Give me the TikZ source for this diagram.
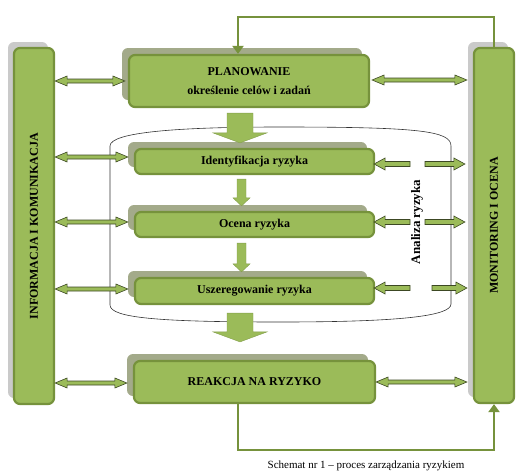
\documentclass[tikz,border=0pt]{standalone}
\usepackage{fontspec}
\setmainfont{Liberation Serif}
\usetikzlibrary{calc,shadows,arrows.meta}
\definecolor{boxgreen}{RGB}{155,187,89}
\definecolor{boxline}{RGB}{118,146,60}
\definecolor{boxshade}{RGB}{163,170,138}
\definecolor{barshade}{RGB}{202,202,202}
\definecolor{arrline}{RGB}{60,72,35}
\newcommand\dblarrow[2]{%
  \coordinate (s) at (#1);
  \coordinate (t) at (#2);
  \coordinate (h1) at ($(s)!12pt!(t)$);
  \coordinate (h2) at ($(t)!12pt!(s)$);
  \draw [dblarr] (s) -- ($(h1)!5pt!90:(t)$) -- ($(h1)!2pt!90:(t)$) -- ($(h2)!2pt!-90:(s)$) -- ($(h2)!5pt!-90:(s)$) -- (t) -- ($(h2)!5pt!90:(s)$) -- ($(h2)!2pt!90:(s)$) -- ($(h1)!2pt!-90:(t)$) -- ($(h1)!5pt!-90:(t)$) -- cycle;}
\newcommand\blkarrow[6][]{%
  \coordinate (s) at (#2);
  \coordinate (t) at (#3);
  \coordinate (h) at ($(t)!#6!(s)$);
  \draw [#1] ($(s)!#4!90:(t)$) -- ($(h)!#4!-90:(s)$) -- ($(h)!#5!-90:(s)$) -- (t) -- ($(h)!#5!90:(s)$) -- ($(h)!#4!90:(s)$) -- ($(s)!#4!-90:(t)$) -- cycle;}
\begin{document}
\begin{tikzpicture}[x=1pt, y=-1pt,
  bar/.style={draw=boxline, line width=2.2pt, fill=boxgreen, rounded corners=6pt, general shadow={fill=barshade, shadow xshift=-6pt, shadow yshift=6pt}, font=\bfseries\fontsize{12}{14}\selectfont},
  box/.style={draw=boxline, line width=2.2pt, fill=boxgreen, rounded corners=6pt, general shadow={fill=boxshade, shadow xshift=-7pt, shadow yshift=7pt}, font=\bfseries\fontsize{12}{14}\selectfont, align=center},
  dblarr/.style={draw=arrline, line width=0.6pt, fill=boxgreen},
  bigarr/.style={draw=boxgreen!85!black, line width=0.4pt, fill=boxgreen},
  fb/.style={draw=boxline, line width=2.5pt, -{Triangle[length=8pt,width=11pt]}}]
\useasboundingbox (0,0) rectangle (521,474);

\draw [line width=0.6pt, black!80] (110,305) -- (110,146) .. controls (110,132) and (180,127) .. (280,127) .. controls (420,127) and (451,131) .. (451,146) -- (451,304) .. controls (451,316) and (400,322) .. (280,322) .. controls (160,322) and (110,318) .. cycle;

\node [bar, minimum width=40pt, minimum height=356pt] (info) at (34,226) {\rotatebox{90}{INFORMACJA I KOMUNIKACJA}};
\node [bar, minimum width=40pt, minimum height=355pt] (monit) at (494,225.5) {\rotatebox{90}{MONITORING I OCENA}};

\node [box, minimum width=240pt, minimum height=52pt] (plan) at (249,81) {PLANOWANIE\\[5pt] określenie celów i zadań};
\node [box, minimum width=239pt, minimum height=25pt] (ident) at (254.5,161.5) {Identyfikacja ryzyka};
\node [box, minimum width=239pt, minimum height=25pt] (ocena) at (254.5,224.5) {Ocena ryzyka};
\node [box, minimum width=239pt, minimum height=26pt] (usz) at (254.5,291) {Uszeregowanie ryzyka};
\node [box, minimum width=241pt, minimum height=42pt] (reak) at (254.5,382) {REAKCJA NA RYZYKO};

\node [font=\bfseries\fontsize{13}{15}\selectfont, rotate=90] (analiza) at (417,222) {Analiza ryzyka};
\node [font=\fontsize{11}{13}\selectfont] (caption) at (366,466) {Schemat nr 1 -- proces zarządzania ryzykiem};

\blkarrow[bigarr]{$(plan.south)+(-9,5)$}{$(ident.north)+(-14.5,-5)$}{13pt}{27pt}{10pt}
\blkarrow[bigarr]{$(ident.south)+(-13,4)$}{$(ocena.north)+(-13,-5)$}{4.5pt}{8.5pt}{8pt}
\blkarrow[bigarr]{$(ocena.south)+(-13,5)$}{$(usz.north)+(-13,-5)$}{4.5pt}{8.5pt}{8pt}
\blkarrow[bigarr]{$(usz.south)+(-14.5,8)$}{$(reak.north)+(-14.5,-18)$}{13pt}{27pt}{10pt}

\dblarrow{info.east |- 0,81}{$(plan.west)+(-3,0)$}
\dblarrow{info.east |- 0,157}{$(ident.west |- 0,157)+(-6,0)$}
\dblarrow{info.east |- 0,222}{$(ocena.west |- 0,222)+(-6,0)$}
\dblarrow{info.east |- 0,289}{$(usz.west |- 0,289)+(-6,0)$}
\dblarrow{info.east |- 0,383}{$(reak.west |- 0,383)+(-6,0)$}

\dblarrow{$(plan.east |- 0,80)+(2,0)$}{$(monit.west |- 0,80)+(-6,0)$}
\dblarrow{reak.east |- 0,382}{$(monit.west |- 0,382)+(-6,0)$}

\blkarrow[dblarr]{410,164}{$(ident.east |- 0,164)+(-1,0)$}{2.5pt}{6pt}{11pt}
\blkarrow[dblarr]{425,164}{$(monit.west |- 0,164)+(-8,0)$}{2.5pt}{6pt}{11pt}
\blkarrow[dblarr]{410,222}{$(ocena.east |- 0,222)+(-1,0)$}{2.5pt}{6pt}{11pt}
\blkarrow[dblarr]{425,222}{$(monit.west |- 0,222)+(-8,0)$}{2.5pt}{6pt}{11pt}
\blkarrow[dblarr]{410,288}{$(usz.east |- 0,288)+(-1,0)$}{2.5pt}{6pt}{11pt}
\blkarrow[dblarr]{432,288}{$(monit.west |- 0,288)+(-6,0)$}{2.5pt}{6pt}{11pt}

\draw [fb] (monit.north) -- ++(0,-30) -| ($(plan.north)+(-11,0)$);
\draw [fb] ($(reak.south)+(-16.5,0)$) -- ++(0,46) -| (monit.south);
\end{tikzpicture}
\end{document}
